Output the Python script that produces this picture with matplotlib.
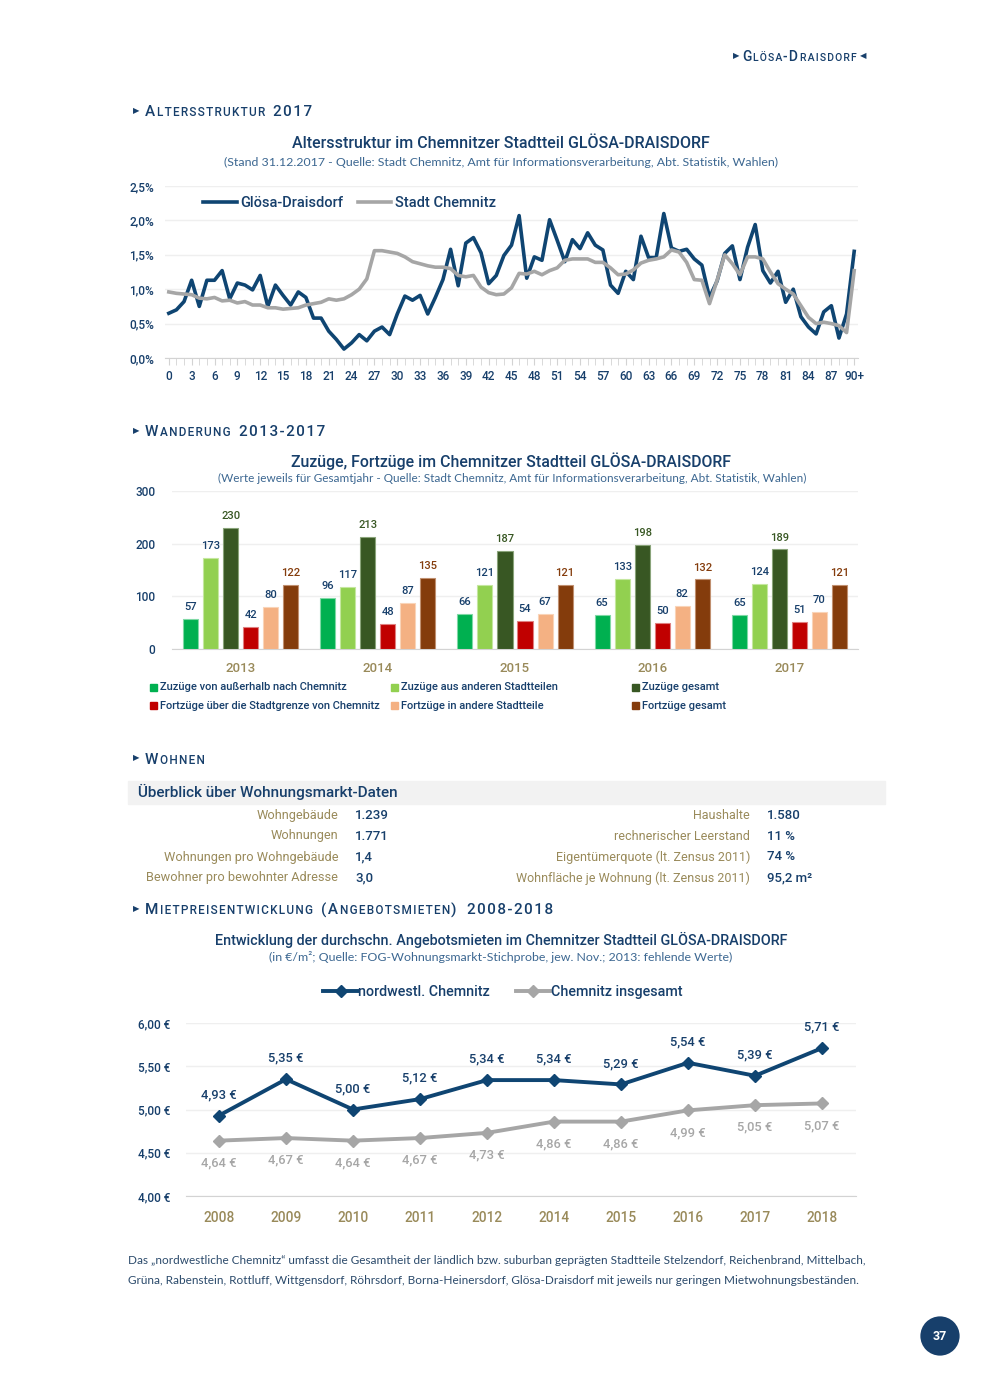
import matplotlib
matplotlib.use('Agg')
import matplotlib.pyplot as plt
from matplotlib.patches import Rectangle
from matplotlib.lines import Line2D

plt.rcParams['font.family'] = ['Roboto', 'DejaVu Sans']

# colours
NAVY = '#173f6b'
DARK_LINE = '#0f4572'
GREY_LINE = '#a6a6a6'
OLIVE = '#998a5a'
SUBTXT = '#3c6791'
GRID = '#efefef'
AXIS = '#d3d3d3'

# --- Altersstruktur 2017 (share of population per age year, %)
age_ticks = list(range(0, 91, 3))
age_tick_labels = [str(a) for a in range(0, 90, 3)] + ['90+']
glosa = [0.65, 0.70, 0.82, 1.13, 0.75, 1.13, 1.13, 1.27, 0.86, 1.09,
         1.06, 0.99, 1.20, 0.75, 1.06, 0.91, 0.77, 0.96, 0.88, 0.58,
         0.58, 0.39, 0.27, 0.13, 0.22, 0.34, 0.25, 0.39, 0.45, 0.34,
         0.64, 0.90, 0.84, 0.91, 0.64, 0.88, 1.14, 1.58, 1.05, 1.67,
         1.75, 1.53, 1.08, 1.20, 1.49, 1.64, 2.07, 1.16, 1.47, 1.42,
         2.01, 1.71, 1.40, 1.72, 1.59, 1.82, 1.64, 1.57, 1.06, 0.94,
         1.26, 1.14, 1.77, 1.46, 1.46, 2.10, 1.60, 1.55, 1.58, 1.44,
         1.35, 0.88, 1.12, 1.52, 1.63, 1.14, 1.61, 1.94, 1.27, 1.09,
         1.26, 0.81, 1.00, 0.60, 0.45, 0.35, 0.67, 0.76, 0.29, 0.64,
         1.55]
chemnitz = [0.96, 0.94, 0.93, 0.92, 0.87, 0.86, 0.88, 0.83, 0.84, 0.80,
            0.82, 0.77, 0.77, 0.73, 0.73, 0.71, 0.72, 0.73, 0.77, 0.79,
            0.81, 0.86, 0.84, 0.86, 0.92, 1.00, 1.15, 1.56, 1.56, 1.54,
            1.52, 1.47, 1.40, 1.37, 1.34, 1.32, 1.32, 1.30, 1.20, 1.18,
            1.20, 1.03, 0.95, 0.92, 0.93, 1.02, 1.23, 1.22, 1.26, 1.21,
            1.27, 1.31, 1.42, 1.44, 1.44, 1.44, 1.39, 1.39, 1.31, 1.21,
            1.22, 1.28, 1.38, 1.42, 1.44, 1.47, 1.57, 1.54, 1.39, 1.14,
            1.13, 0.79, 1.13, 1.50, 1.37, 1.21, 1.47, 1.47, 1.44, 1.25,
            1.08, 1.00, 0.93, 0.76, 0.59, 0.50, 0.52, 0.50, 0.47, 0.37,
            1.27]
pct_ticks = [0, 0.5, 1.0, 1.5, 2.0, 2.5]
pct_labels = ['0,0%', '0,5%', '1,0%', '1,5%', '2,0%', '2,5%']

# --- Wanderung 2013-2017
years_w = ['2013', '2014', '2015', '2016', '2017']
zuzug_aussen = [57, 96, 66, 65, 65]
zuzug_stadtteile = [173, 117, 121, 133, 124]
zuzug_gesamt = [230, 213, 187, 198, 189]
fortzug_aussen = [42, 48, 54, 50, 51]
fortzug_stadtteile = [80, 87, 67, 82, 70]
fortzug_gesamt = [122, 135, 121, 132, 121]
wand_labels = ['Zuzüge von außerhalb nach Chemnitz', 'Zuzüge aus anderen Stadtteilen',
               'Zuzüge gesamt', 'Fortzüge über die Stadtgrenze von Chemnitz',
               'Fortzüge in andere Stadtteile', 'Fortzüge gesamt']
wand_colors = ['#00b050', '#92d050', '#385723', '#c00000', '#f4b183', '#843c0c']
wand_edges = ['#7fd9a5', '#c5e79f', '#8aa47a', '#e08080', '#f9d4b8', '#c09070']
wand_value_colors = [NAVY, NAVY, '#385723', NAVY, NAVY, '#843c0c']
wand_ticks = [0, 100, 200, 300]

# --- Wohnen
wohn_left_labels = ['Wohngebäude', 'Wohnungen', 'Wohnungen pro Wohngebäude',
                    'Bewohner pro bewohnter Adresse']
wohn_left_values = ['1.239', '1.771', '1,4', '3,0']
wohn_right_labels = ['Haushalte', 'rechnerischer Leerstand',
                     'Eigentümerquote (lt. Zensus 2011)',
                     'Wohnfläche je Wohnung (lt. Zensus 2011)']
wohn_right_values = ['1.580', '11 %', '74 %', '95,2 m²']

# --- Angebotsmieten
years_m = ['2008', '2009', '2010', '2011', '2012', '2014', '2015', '2016', '2017', '2018']
miete_nw = [4.93, 5.35, 5.00, 5.12, 5.34, 5.34, 5.29, 5.54, 5.39, 5.71]
miete_chem = [4.64, 4.67, 4.64, 4.67, 4.73, 4.86, 4.86, 4.99, 5.05, 5.07]
euro_ticks = [4.0, 4.5, 5.0, 5.5, 6.0]


def euro(v):
    return f'{v:.2f} €'.replace('.', ',')


W, H = 990, 1389
fig = plt.figure(figsize=(W / 100, H / 100), dpi=100)
fig.patch.set_facecolor('white')
rend = fig.canvas.get_renderer()
HAIR = '\u200a'


def box(x0, y0, x1, y1):
    return fig.add_axes([x0 / W, 1 - y1 / H, (x1 - x0) / W, (y1 - y0) / H])


def put(x, y, s, **kw):
    return fig.text(x / W, 1 - y / H, s, **kw)


def advance(s, size):
    # advance width of a string = width('|s|') - width('||')
    a = put(0, 0, '|' + s + '|', fontsize=size, fontweight='medium')
    b = put(0, 0, '||', fontsize=size, fontweight='medium')
    w = a.get_window_extent(rend).width - b.get_window_extent(rend).width
    a.remove()
    b.remove()
    return w


def caps(x, y, s, big, small, track=1.6, color=NAVY):
    # fake small caps with letter spacing; same-size letters share one text run
    runs = []
    for ch in s:
        size = small if ch.islower() else big
        if ch == ' ' and runs:
            size = runs[-1][1]
        c = '  ' if ch == ' ' else ch.upper()
        if runs and runs[-1][1] == size:
            runs[-1][0].append(c)
        else:
            runs.append([[c], size])
    for chars, size in runs:
        n = max(1, round(track / advance(HAIR, size)))
        sep = HAIR * n
        txt = sep.join(chars)
        put(x, y, txt, fontsize=size, color=color, va='baseline', ha='left',
            fontweight='medium')
        x += advance(txt + sep, size)
    return x


def section(y, s, track=1.6):
    put(133, y, '▶', fontsize=6, color=NAVY, va='center', family='DejaVu Sans')
    caps(145, y + 5.5, s, 11, 8.5, track=track)


# page header
put(733, 56, '▶', fontsize=6, color=NAVY, va='center', family='DejaVu Sans')
xe = caps(742, 61, 'Glösa-Draisdorf', 10, 7.6, track=1.0)
put(xe + 2, 56, '◀', fontsize=6, color=NAVY, va='center', family='DejaVu Sans')

# ---------------- Altersstruktur
section(111, 'Altersstruktur 2017')
put(501, 144, 'Altersstruktur im Chemnitzer Stadtteil GLÖSA-DRAISDORF', fontsize=11.5,
    color=NAVY, ha='center', va='center', fontweight='medium')
put(501, 162, '(Stand 31.12.2017 - Quelle: Stadt Chemnitz, Amt für Informationsverarbeitung, Abt. Statistik, Wahlen)',
    fontsize=8.9, color=SUBTXT, ha='center', va='center', family=['Lato', 'DejaVu Sans'])

ax1 = box(165, 186, 858, 358)
ax1.plot(range(len(glosa)), glosa, color=DARK_LINE, lw=2.6, label='Glösa-Draisdorf')
ax1.plot(range(len(chemnitz)), chemnitz, color=GREY_LINE, lw=2.6, label='Stadt Chemnitz')
ax1.set_xlim(-0.5, 90.5)
ax1.set_ylim(0, 2.5)
ax1.set_yticks(pct_ticks, pct_labels)
ax1.set_xticks(age_ticks, age_tick_labels)
ax1.set_xticks(range(91), minor=True)
ax1.grid(axis='y', color=GRID, lw=1)
ax1.set_axisbelow(True)
for s in ['top', 'right', 'left']:
    ax1.spines[s].set_visible(False)
ax1.spines['bottom'].set_color(AXIS)
ax1.tick_params(axis='y', length=0, pad=8, labelsize=8.5, labelcolor=NAVY)
ax1.tick_params(axis='x', which='both', length=5, color=AXIS, pad=4, labelsize=8.5, labelcolor=NAVY)
for lab in ax1.get_xticklabels() + ax1.get_yticklabels():
    lab.set_fontweight('medium')
ax1.legend(loc='center left', bbox_to_anchor=(203 / W, 1 - 203 / H), bbox_transform=fig.transFigure,
           ncol=2, frameon=False, prop={'size': 10.5, 'weight': 'medium'}, handlelength=2.3,
           columnspacing=1.0, handletextpad=0.25, labelcolor=NAVY, borderaxespad=0, borderpad=0)

# ---------------- Wanderung
section(431, 'Wanderung 2013-2017')
put(511, 461, 'Zuzüge, Fortzüge im Chemnitzer Stadtteil GLÖSA-DRAISDORF', fontsize=11.4,
    color=NAVY, ha='center', va='center', fontweight='medium')
put(512, 478, '(Werte jeweils für Gesamtjahr - Quelle: Stadt Chemnitz, Amt für Informationsverarbeitung, Abt. Statistik, Wahlen)',
    fontsize=8.5, color=SUBTXT, ha='center', va='center', family=['Lato', 'DejaVu Sans'])

ax2 = box(172, 491, 858, 649)
series = [zuzug_aussen, zuzug_stadtteile, zuzug_gesamt,
          fortzug_aussen, fortzug_stadtteile, fortzug_gesamt]
offsets = [-0.365, -0.219, -0.073, 0.073, 0.219, 0.365]
for vals, off, col, ecol, vcol in zip(series, offsets, wand_colors, wand_edges, wand_value_colors):
    bars = ax2.bar([i + off for i in range(len(years_w))], vals, width=0.11, color=col,
                   edgecolor=ecol, linewidth=0.8, zorder=3)
    ax2.bar_label(bars, padding=5, color=vcol, fontsize=8, fontweight='medium')
ax2.set_xlim(-0.5, 4.5)
ax2.set_ylim(0, 300)
ax2.set_yticks(wand_ticks)
ax2.set_xticks(range(len(years_w)), years_w)
ax2.grid(axis='y', color=GRID, lw=1)
ax2.set_axisbelow(True)
for s in ['top', 'right', 'left']:
    ax2.spines[s].set_visible(False)
ax2.spines['bottom'].set_color(AXIS)
ax2.tick_params(axis='y', length=0, pad=12, labelsize=8.5, labelcolor=NAVY)
ax2.tick_params(axis='x', length=0, pad=9, labelsize=9.5, labelcolor=OLIVE)
for lab in ax2.get_xticklabels() + ax2.get_yticklabels():
    lab.set_fontweight('medium')

for k, (lab, col) in enumerate(zip(wand_labels, wand_colors)):
    lx = [150, 391, 632][k % 3]
    ly = [687, 706][k // 3]
    fig.add_artist(Rectangle((lx / W, 1 - (ly + 3.5) / H), 7 / W, 7 / H,
                             transform=fig.transFigure, color=col))
    put(lx + 10, ly, lab, fontsize=8.0, color=NAVY, va='center', fontweight='medium')

# ---------------- Wohnen
section(758, 'Wohnen')
fig.add_artist(Rectangle((128 / W, 1 - 804 / H), (885 - 128) / W, 23 / H,
                         transform=fig.transFigure, color='#f2f2f2', zorder=0))
put(138, 792, 'Überblick über Wohnungsmarkt-Daten', fontsize=11, color=NAVY, va='center',
    fontweight='medium')
for k in range(4):
    y = 815 + 21 * k
    put(338, y, wohn_left_labels[k], fontsize=9.2, color=OLIVE, ha='right', va='center')
    put(355, y, wohn_left_values[k], fontsize=9.5, color=NAVY, ha='left', va='center',
        fontweight='medium')
    put(750, y, wohn_right_labels[k], fontsize=9.0, color=OLIVE, ha='right', va='center')
    put(767, y, wohn_right_values[k], fontsize=9.5, color=NAVY, ha='left', va='center',
        fontweight='medium')

# ---------------- Mietpreise
section(909, 'Mietpreisentwicklung (Angebotsmieten) 2008-2018', track=1.4)
put(501, 940, 'Entwicklung der durchschn. Angebotsmieten im Chemnitzer Stadtteil GLÖSA-DRAISDORF',
    fontsize=10.4, color=NAVY, ha='center', va='center', fontweight='medium')
put(501, 957, '(in €/m²; Quelle: FOG-Wohnungsmarkt-Stichprobe, jew. Nov.; 2013: fehlende Werte)',
    fontsize=8.9, color=SUBTXT, ha='center', va='center', family=['Lato', 'DejaVu Sans'])

ax3 = box(185.5, 1023, 855.5, 1196)
xm = range(len(years_m))
ax3.plot(xm, miete_chem, color=GREY_LINE, lw=2.8, marker='D', ms=6.5, zorder=3)
ax3.plot(xm, miete_nw, color=DARK_LINE, lw=2.8, marker='D', ms=6.5, zorder=4)
for i, v in enumerate(miete_nw):
    ax3.annotate(euro(v), (i, v), xytext=(0, 15), textcoords='offset points', ha='center',
                 va='center', fontsize=9.3, color=NAVY, fontweight='medium')
for i, v in enumerate(miete_chem):
    ax3.annotate(euro(v), (i, v), xytext=(0, -16), textcoords='offset points', ha='center',
                 va='center', fontsize=9.3, color=GREY_LINE, fontweight='medium')
ax3.set_xlim(-0.5, 9.5)
ax3.set_ylim(4, 6)
ax3.set_yticks(euro_ticks, [euro(v) for v in euro_ticks])
ax3.set_xticks(list(xm), years_m)
ax3.grid(axis='y', color=GRID, lw=1)
ax3.set_axisbelow(True)
for s in ['top', 'right', 'left']:
    ax3.spines[s].set_visible(False)
ax3.spines['bottom'].set_color(AXIS)
ax3.tick_params(axis='y', length=0, pad=11, labelsize=8.5, labelcolor=NAVY)
ax3.tick_params(axis='x', length=0, pad=11, labelsize=9.8, labelcolor=OLIVE)
for lab in ax3.get_xticklabels() + ax3.get_yticklabels():
    lab.set_fontweight('medium')
handles = [Line2D([], [], color=DARK_LINE, lw=2.8, marker='D', ms=6),
           Line2D([], [], color=GREY_LINE, lw=2.8, marker='D', ms=6)]
ax3.legend(handles, ['nordwestl. Chemnitz', 'Chemnitz insgesamt'], loc='center',
           bbox_to_anchor=(503 / W, 1 - 992 / H), bbox_transform=fig.transFigure, ncol=2,
           frameon=False, prop={'size': 10.3, 'weight': 'medium'}, handlelength=2.4,
           columnspacing=1.8, handletextpad=0.05, labelcolor=NAVY, borderaxespad=0, borderpad=0)

# footnote
foot = ['Das „nordwestliche Chemnitz“ umfasst die Gesamtheit der ländlich bzw. suburban geprägten Stadtteile Stelzendorf, Reichenbrand, Mittelbach,',
        'Grüna, Rabenstein, Rottluff, Wittgensdorf, Röhrsdorf, Borna-Heinersdorf, Glösa-Draisdorf mit jeweils nur geringen Mietwohnungsbeständen.']
for k, line in enumerate(foot):
    put(128, 1261 + 19 * k, line, fontsize=8.5, color='#2b4a6b', va='center',
        family=['Lato', 'DejaVu Sans'])

put(940, 1336, '37', fontsize=9, color='white', ha='center', va='center', fontweight='bold',
    bbox=dict(boxstyle='circle,pad=1.0', fc=NAVY, ec='none'))

fig.savefig('out.png', dpi=100)
